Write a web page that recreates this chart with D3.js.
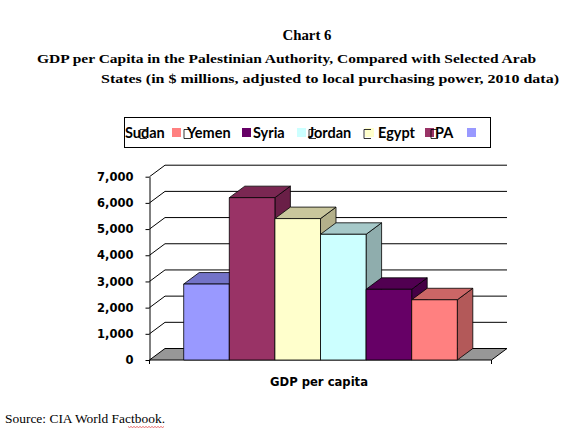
<!DOCTYPE html>
<meta charset="utf-8">
<style>
  body { margin: 0; background: #fff; }
</style>
<svg width="583" height="432"></svg>
<script src="https://d3js.org/d3.v7.min.js"></script>
<script>
// data (bars left to right)
const countries = ["PA", "Egypt", "Jordan", "Syria", "Yemen", "Sudan"];
const gdpValues = [2900, 6200, 5400, 4800, 2700, 2300];
const frontColors = ["#9999ff", "#993366", "#ffffcc", "#ccffff", "#660066", "#ff8080"];
const topColors   = ["#7373c8", "#7a2752", "#c9c69c", "#a6c9c9", "#510051", "#cc6666"];
const sideColors  = ["#6666b0", "#6a1f47", "#b3b08a", "#8fadad", "#450045", "#b35959"];
const yTicks = [0, 1000, 2000, 3000, 4000, 5000, 6000, 7000];
const legendOrder = ["Sudan", "Yemen", "Syria", "Jordan", "Egypt", "PA"];

const svg = d3.select("svg");

// titles
const serif = "'Liberation Serif', 'DejaVu Serif', serif";
svg.append("text")
    .attr("x", 307).attr("y", 39.5)
    .attr("text-anchor", "middle")
    .attr("font-family", serif).attr("font-weight", "bold").attr("font-size", 14)
    .attr("textLength", 49).attr("lengthAdjust", "spacingAndGlyphs")
    .text("Chart 6");
svg.append("text")
    .attr("x", 37).attr("y", 63)
    .attr("font-family", serif).attr("font-weight", "bold").attr("font-size", 13.5)
    .attr("textLength", 499).attr("lengthAdjust", "spacingAndGlyphs")
    .text("GDP per Capita in the Palestinian Authority, Compared with Selected Arab");
svg.append("text")
    .attr("x", 101).attr("y", 83)
    .attr("font-family", serif).attr("font-weight", "bold").attr("font-size", 13.5)
    .attr("textLength", 458).attr("lengthAdjust", "spacingAndGlyphs")
    .text("States (in $ millions, adjusted to local purchasing power, 2010 data)");

// legend
const legendLabelX = [125, 187, 253, 308, 378, 435];
const legendSwatchX = [172, 242, 297, 365, 425, 467];
const colorOf = d3.scaleOrdinal(countries, frontColors);

svg.append("rect")
    .attr("x", 124.5).attr("y", 117.5).attr("width", 366).attr("height", 30)
    .attr("fill", "#fff").attr("stroke", "#000").attr("stroke-width", 1);

const legend = svg.append("g")
    .attr("font-family", "Lato, 'Open Sans', sans-serif")
    .attr("font-weight", "bold").attr("font-size", 14.5)
  .selectAll("g")
  .data(legendOrder)
  .join("g");

legend.append("rect")
    .attr("x", (d, i) => legendSwatchX[i]).attr("y", 128)
    .attr("width", 9).attr("height", 9)
    .attr("fill", d => colorOf(d));

legend.append("text")
    .attr("x", (d, i) => legendLabelX[i]).attr("y", 137.5)
    .text(d => d);

// the stray swatch outlines that show in the legend
const strayX = [140, 184, 309, 364, 431];
svg.append("g")
    .attr("fill", "none").attr("stroke", "#000").attr("stroke-width", 0.8)
  .selectAll("path")
  .data(strayX)
  .join("path")
    .attr("d", x => `M${x + 7},129.5H${x}V138.5H${x + 7}`);

// plot
const dx = 15.5, dy = -11.5;
const y = d3.scaleLinear().domain([0, 7000]).range([360, 176.7]);
const x = d3.scaleBand().domain(countries).range([149.5, 491.5])
    .paddingInner(0).paddingOuter(0.75);
const left = 149.5, right = 491.5;

// back wall gridlines
svg.append("g")
    .attr("fill", "none").attr("stroke", "#000").attr("stroke-width", 1)
  .selectAll("path")
  .data(yTicks.filter(d => d > 0))
  .join("path")
    .attr("d", d => `M${left},${y(d)}L${left + dx},${y(d) + dy}H${right + dx}`);

// floor
svg.append("path")
    .attr("d", `M${left},${y(0)}H${right}L${right + dx},${y(0) + dy}H${left + dx}Z`)
    .attr("fill", "#979797").attr("stroke", "#000").attr("stroke-width", 1);

// bars
const bars = svg.append("g")
    .attr("stroke", "#000").attr("stroke-width", 0.8).attr("stroke-linejoin", "round")
  .selectAll("g")
  .data(countries.map((c, i) => ({ country: c, value: gdpValues[i], i })))
  .join("g");

bars.append("path")
    .attr("fill", d => sideColors[d.i])
    .attr("d", d => {
      const x1 = x(d.country) + x.bandwidth(), y0 = y(0), y1 = y(d.value);
      return `M${x1},${y0}L${x1 + dx},${y0 + dy}V${y1 + dy}L${x1},${y1}Z`;
    });
bars.append("path")
    .attr("fill", d => topColors[d.i])
    .attr("d", d => {
      const x0 = x(d.country), x1 = x0 + x.bandwidth(), y1 = y(d.value);
      return `M${x0},${y1}H${x1}L${x1 + dx},${y1 + dy}H${x0 + dx}Z`;
    });
bars.append("rect")
    .attr("fill", d => frontColors[d.i])
    .attr("x", d => x(d.country))
    .attr("y", d => y(d.value))
    .attr("width", x.bandwidth())
    .attr("height", d => y(0) - y(d.value));

// y axis
const yAxis = svg.append("g")
    .attr("transform", `translate(${left},0)`)
    .call(d3.axisLeft(y).tickValues(yTicks).tickFormat(d3.format(","))
      .tickSize(4).tickSizeOuter(0).tickPadding(12));
yAxis.select(".domain").attr("stroke", "#000");
yAxis.selectAll("text")
    .attr("font-family", "'DejaVu Sans', Verdana, sans-serif")
    .attr("font-weight", "bold").attr("font-size", 11.5).attr("fill", "#000");

// category axis ticks and title
svg.append("g").attr("stroke", "#000")
  .selectAll("line")
  .data([left, right])
  .join("line")
    .attr("x1", d => d).attr("x2", d => d)
    .attr("y1", y(0)).attr("y2", y(0) + 4);

svg.append("text")
    .attr("x", 319).attr("y", 386)
    .attr("text-anchor", "middle")
    .attr("font-family", "'DejaVu Sans', Verdana, sans-serif")
    .attr("font-weight", "bold").attr("font-size", 12)
    .attr("textLength", 98).attr("lengthAdjust", "spacingAndGlyphs")
    .text("GDP per capita");

// source note
svg.append("text")
    .attr("x", 5).attr("y", 423)
    .attr("font-family", serif).attr("font-size", 11.5)
    .attr("textLength", 160).attr("lengthAdjust", "spacingAndGlyphs")
    .text("Source:  CIA  World Factbook.");

const squiggle = d3.range(128, 165, 1.5)
    .map((px, i) => [px, 426.5 + (i % 2 ? 1 : 0)]);
svg.append("path")
    .attr("d", d3.line()(squiggle))
    .attr("fill", "none").attr("stroke", "#e03030").attr("stroke-width", 0.7);
</script>
